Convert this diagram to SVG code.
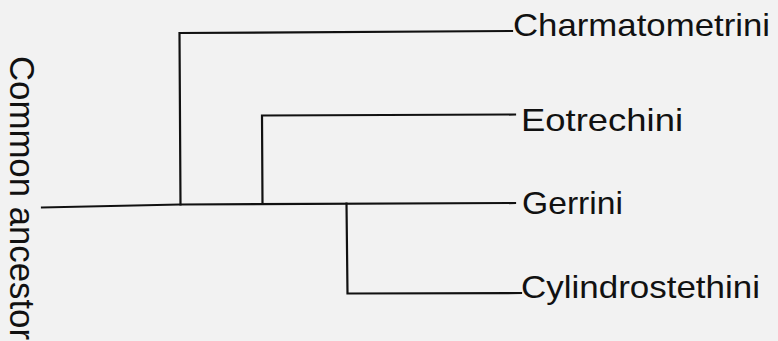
<svg xmlns="http://www.w3.org/2000/svg" width="778" height="341" viewBox="0 0 778 341">
  <style>
    .bg { fill: #f2f2f2; }
    .edge { fill: none; stroke: #111; stroke-width: 2.2; stroke-linecap: square; stroke-linejoin: miter; }
    .taxon { font-family: "Liberation Sans", Arial, sans-serif; font-size: 32px; fill: #111; }
    .root { font-family: "Liberation Sans", Arial, sans-serif; font-size: 35px; fill: #111; }
  </style>
  <rect class="bg" x="0" y="0" width="778" height="341"/>

  <!-- branches of the tree -->
  <g id="connectors">
    <path class="edge" d="M42 207.5 L180 204.5 L515 203"/>
    <path class="edge" d="M180.5 204.5 L179.5 33 L512 31"/>
    <path class="edge" d="M262.5 204 L262 115.5 L515 114.5"/>
    <path class="edge" d="M346.5 203.5 L347.5 293.5 L521 293"/>
  </g>

  <g id="root">
    <text class="root" transform="translate(9.5,56) rotate(90)" textLength="284" lengthAdjust="spacingAndGlyphs">Common ancestor</text>
  </g>

  <g id="charmatometrini">
    <text class="taxon" x="513" y="36" textLength="257" lengthAdjust="spacingAndGlyphs">Charmatometrini</text>
  </g>
  <g id="eotrechini">
    <text class="taxon" x="521" y="131" textLength="162" lengthAdjust="spacingAndGlyphs">Eotrechini</text>
  </g>
  <g id="gerrini">
    <text class="taxon" x="522" y="214" textLength="101" lengthAdjust="spacingAndGlyphs">Gerrini</text>
  </g>
  <g id="cylindrostethini">
    <text class="taxon" x="521" y="297.5" textLength="239" lengthAdjust="spacingAndGlyphs">Cylindrostethini</text>
  </g>
</svg>
